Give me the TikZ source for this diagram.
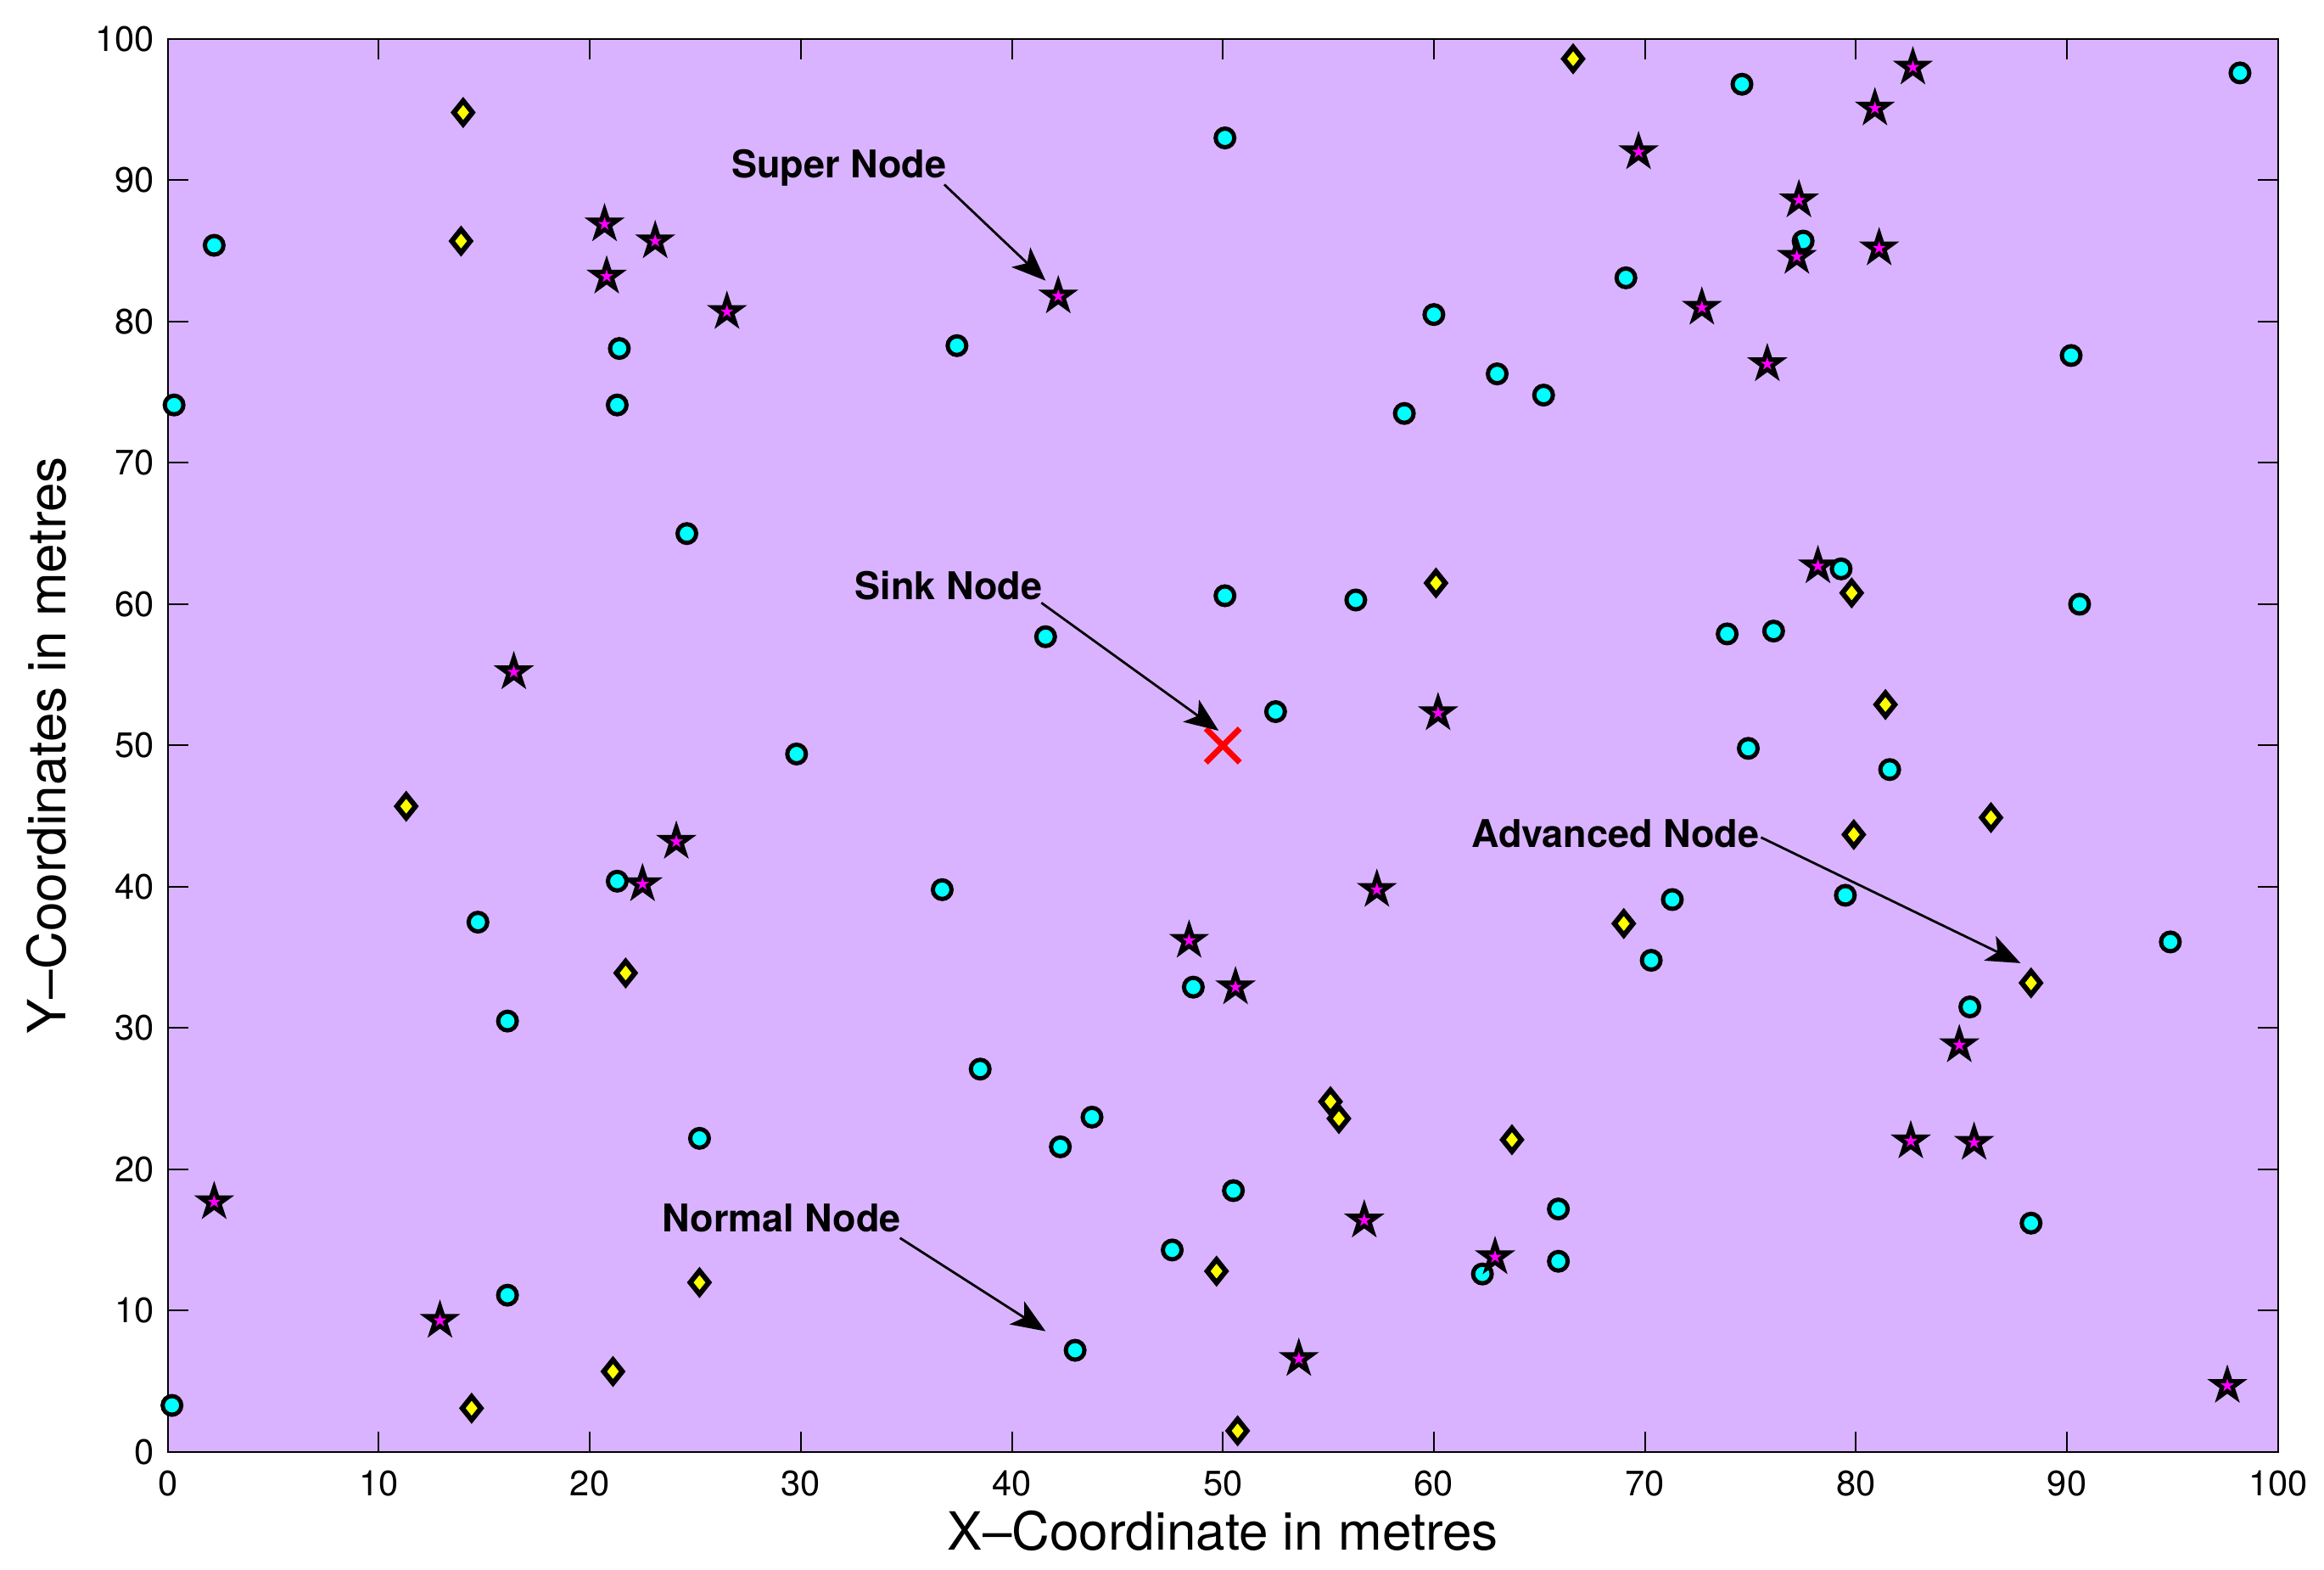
\documentclass[tikz,border=0pt]{standalone}
\usepackage{fontspec}
\setmainfont{TeX Gyre Heros}
\usetikzlibrary{shapes.geometric,shapes.misc,arrows.meta}
\definecolor{bgpurple}{RGB}{217,179,255}
\definecolor{ncyan}{RGB}{0,255,255}
\definecolor{nyellow}{RGB}{255,255,0}
\definecolor{nmagenta}{RGB}{255,0,255}
\definecolor{sinkred}{RGB}{255,0,0}
\begin{document}
\begin{tikzpicture}[x=12.435pt, y=8.325pt,
  normalnode/.style={circle, draw=black, fill=ncyan, line width=2.5pt, inner sep=0pt, minimum size=11pt},
  advnode/.style={inner sep=0pt, minimum size=0pt, outer sep=0pt},
  advmark/.style={draw=black, fill=nyellow, line width=3pt, line join=miter},
  supernode/.style={star, star points=5, star point ratio=2.618, fill=black, inner sep=0pt, minimum size=25pt},
  supercore/.style={star, star points=5, star point ratio=2.618, fill=nmagenta, inner sep=0pt, minimum size=8.2pt},
  sinknode/.style={cross out, draw=sinkred, line width=3.5pt, inner sep=0pt, minimum size=16.5pt},
  annot/.style={font=\fontsize{22.5}{27}\selectfont\bfseries, inner sep=0pt, anchor=base},
  pointer/.style={line width=1.4pt, -{Stealth[length=20pt, width=16pt, inset=5pt]}},
  ticklbl/.style={font=\fontsize{20.8}{25}\selectfont, inner sep=0pt},
  axislbl/.style={font=\fontsize{31}{37}\selectfont, inner sep=0pt, anchor=base},
  axisline/.style={line width=1pt, black}]
\useasboundingbox (-98.85pt,-69.5pt) rectangle (1270.65pt,855.5pt);
\fill[white] (-98.85pt,-69.5pt) rectangle (1270.65pt,855.5pt);
\fill[bgpurple] (0,0) rectangle (100,100);
% box and ticks
\draw[axisline] (0,0) rectangle (100,100);
\foreach \t in {0,10,...,100}{
  \draw[axisline] (\t,0) -- ++(0,12pt);
  \draw[axisline] (\t,100) -- ++(0,-12pt);
  \draw[axisline] (0,\t) -- ++(12pt,0);
  \draw[axisline] (100,\t) -- ++(-12pt,0);
  \node[ticklbl, anchor=north, yshift=-11pt] (xt\t) at (\t,0) {\t};
  \node[ticklbl, anchor=east, xshift=-7.9pt] (yt\t) at (0,\t) {\t};
}
\node[axislbl, yshift=-58pt] (xlabel) at (50,0) {X--Coordinate in metres};
\node[axislbl, rotate=90] (ylabel) at ([xshift=-60pt]0,50) {Y--Coordinates in metres};
% normal nodes
\foreach \x/\y [count=\i] in {0.3/74.1, 2.2/85.4, 0.2/3.3, 21.4/78.1, 21.3/74.1, 24.6/65.0, 37.4/78.3, 50.1/93.0,
  29.8/49.4, 41.6/57.7, 50.1/60.6, 52.5/52.4, 56.3/60.3, 21.3/40.4, 14.7/37.5, 16.1/30.5, 36.7/39.8,
  25.2/22.2, 38.5/27.1, 16.1/11.1, 42.3/21.6, 43.8/23.7, 48.6/32.9, 50.5/18.5, 47.6/14.3, 43.0/7.2,
  58.6/73.5, 60.0/80.5, 63.0/76.3, 65.2/74.8, 69.1/83.1, 74.6/96.8, 77.5/85.7, 98.2/97.6, 90.2/77.6,
  79.3/62.5, 73.9/57.9, 76.1/58.1, 90.6/60.0, 74.9/49.8, 81.6/48.3, 71.3/39.1, 70.3/34.8, 79.5/39.4,
  94.9/36.1, 85.4/31.5, 88.3/16.2, 65.9/17.2, 65.9/13.5, 62.3/12.6}
  \node[normalnode] (n\i) at (\x,\y) {};
% advanced nodes
\foreach \x/\y [count=\i] in {14.0/94.8, 13.9/85.7, 11.3/45.7, 21.7/33.9, 25.2/12.0, 21.1/5.7, 14.4/3.1,
  50.7/1.5, 49.7/12.8, 55.1/24.8, 55.5/23.6, 63.7/22.1, 60.1/61.5, 66.6/98.6, 79.8/60.8, 81.4/52.9,
  79.9/43.7, 86.4/44.9, 69.0/37.4, 88.3/33.2}
  {\node[advnode] (a\i) at (\x,\y) {};
   \draw[advmark] ([yshift=6.85pt]a\i.center) -- ([xshift=5.5pt]a\i.center) -- ([yshift=-6.85pt]a\i.center) -- ([xshift=-5.5pt]a\i.center) -- cycle;}
% super nodes
\foreach \x/\y [count=\i] in {20.7/86.9, 23.1/85.7, 20.8/83.2, 26.5/80.7, 42.2/81.8, 16.4/55.2, 24.1/43.2,
  22.5/40.2, 2.2/17.7, 12.9/9.3, 48.4/36.2, 50.6/32.9, 57.3/39.8, 60.2/52.3, 56.7/16.4, 53.6/6.6,
  62.9/13.8, 69.7/92.0, 72.7/81.0, 75.8/77.0, 77.3/88.6, 77.2/84.6, 80.9/95.1, 82.7/98.0, 81.1/85.2,
  78.2/62.7, 84.9/28.8, 82.6/22.0, 85.6/21.9, 97.6/4.7}
  {\node[supernode] (s\i) at (\x,\y) {};
   \node[supercore] (sc\i) at (s\i.center) {};}
% sink
\node[sinknode] (sink) at (50,50) {};
% annotations
\node[annot] (lsuper) at (31.8,90.2) {Super Node};
\node[annot] (lsink) at (37.0,60.3) {Sink Node};
\node[annot] (ladv) at (68.6,42.8) {Advanced Node};
\node[annot] (lnorm) at (29.1,15.6) {Normal Node};
\coordinate (psuper) at (36.8,89.7);
\coordinate (tsuper) at (41.6,82.9);
\coordinate (psink) at (41.4,60.1);
\coordinate (tsink) at (49.8,51.05);
\coordinate (padv) at (75.5,43.5);
\coordinate (tadv) at (87.8,34.6);
\coordinate (pnorm) at (34.7,15.15);
\coordinate (tnorm) at (41.6,8.55);
\draw[pointer] (psuper) -- (tsuper);
\draw[pointer] (psink) -- (tsink);
\draw[pointer] (padv) -- (tadv);
\draw[pointer] (pnorm) -- (tnorm);
\end{tikzpicture}
\end{document}
